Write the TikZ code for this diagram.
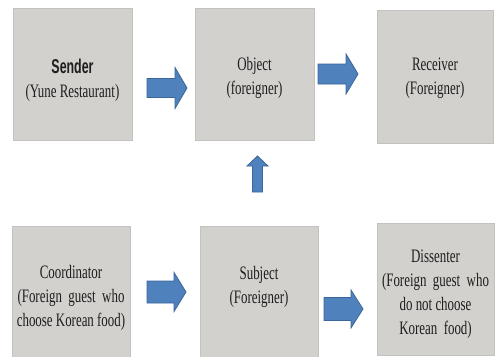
\documentclass[tikz,border=0pt]{standalone}
\usepackage{fontspec}
\setmainfont[FakeStretch=0.68]{Liberation Serif}
\newfontfamily\titlesans[FakeStretch=0.62]{Liberation Sans}
\definecolor{boxfill}{HTML}{D3D1CD}
\definecolor{boxline}{HTML}{C4C2BE}
\definecolor{arrfill}{HTML}{4F81BD}
\definecolor{arrline}{HTML}{3A6699}
\definecolor{txt}{HTML}{1E1E1E}
\tikzset{
  box/.style={draw=boxline, fill=boxfill, line width=1pt, inner sep=0pt},
  lbl/.style={align=center, text=txt, anchor=base, inner sep=0pt, font=\fontsize{19}{24}\selectfont},
  blockarrow/.style={draw=arrline, fill=arrfill, line width=0.8pt, line join=miter}
}
\newcommand\rarrow[6]{% x0 x1 yc shafthalf headhalf headlen
  \draw[blockarrow] (#1,#3-#4) -- (#2-#6,#3-#4) -- (#2-#6,#3-#5) -- (#2,#3) -- (#2-#6,#3+#5) -- (#2-#6,#3+#4) -- (#1,#3+#4) -- cycle;}
\begin{document}
\begin{tikzpicture}[x=1pt,y=-1pt]
\useasboundingbox (0,0) rectangle (495,356);
\fill[white] (0,0) rectangle (495,356);
% boxes
\node[box, minimum width=119pt, minimum height=132pt] (sender) at (72.5,74) {};
\node[box, minimum width=119pt, minimum height=132pt] (object) at (254.5,74) {};
\node[box, minimum width=116pt, minimum height=133pt] (receiver) at (435,76.5) {};
\node[box, minimum width=118pt, minimum height=132pt] (coord) at (71,292) {};
\node[box, minimum width=118pt, minimum height=132pt] (subject) at (259,292) {};
\node[box, minimum width=117pt, minimum height=132pt] (dissent) at (435.5,289) {};
% labels (anchored at the baseline of the last line)
\node[lbl] (senderT) at (72.5,97) {{\titlesans\bfseries\fontsize{20}{24}\selectfont Sender}\\(Yune Restaurant)};
\node[lbl] (objectT) at (254.5,94) {Object\\(foreigner)};
\node[lbl] (receiverT) at (435,94) {Receiver\\(Foreigner)};
\node[lbl] (coordT) at (71,326) {Coordinator\\(Foreign\ \ guest\ \ who\\choose Korean food)};
\node[lbl] (subjectT) at (259,303) {Subject\\(Foreigner)};
\node[lbl] (dissentT) at (435.5,334) {Dissenter\\(Foreign\ \ guest\ \ who\\do not choose\\Korean\ \ food)};
% block arrows
\rarrow{147}{187}{88}{9.5}{20.5}{12}
\rarrow{318}{358}{74}{10}{20}{12}
\rarrow{147}{186}{292}{11}{19.5}{12}
\rarrow{324}{363}{309}{11.5}{19}{12}
\draw[blockarrow] (252.5,192) -- (252.5,166) -- (247,166) -- (257.5,156) -- (268,166) -- (262.5,166) -- (262.5,192) -- cycle;
\end{tikzpicture}
\end{document}
